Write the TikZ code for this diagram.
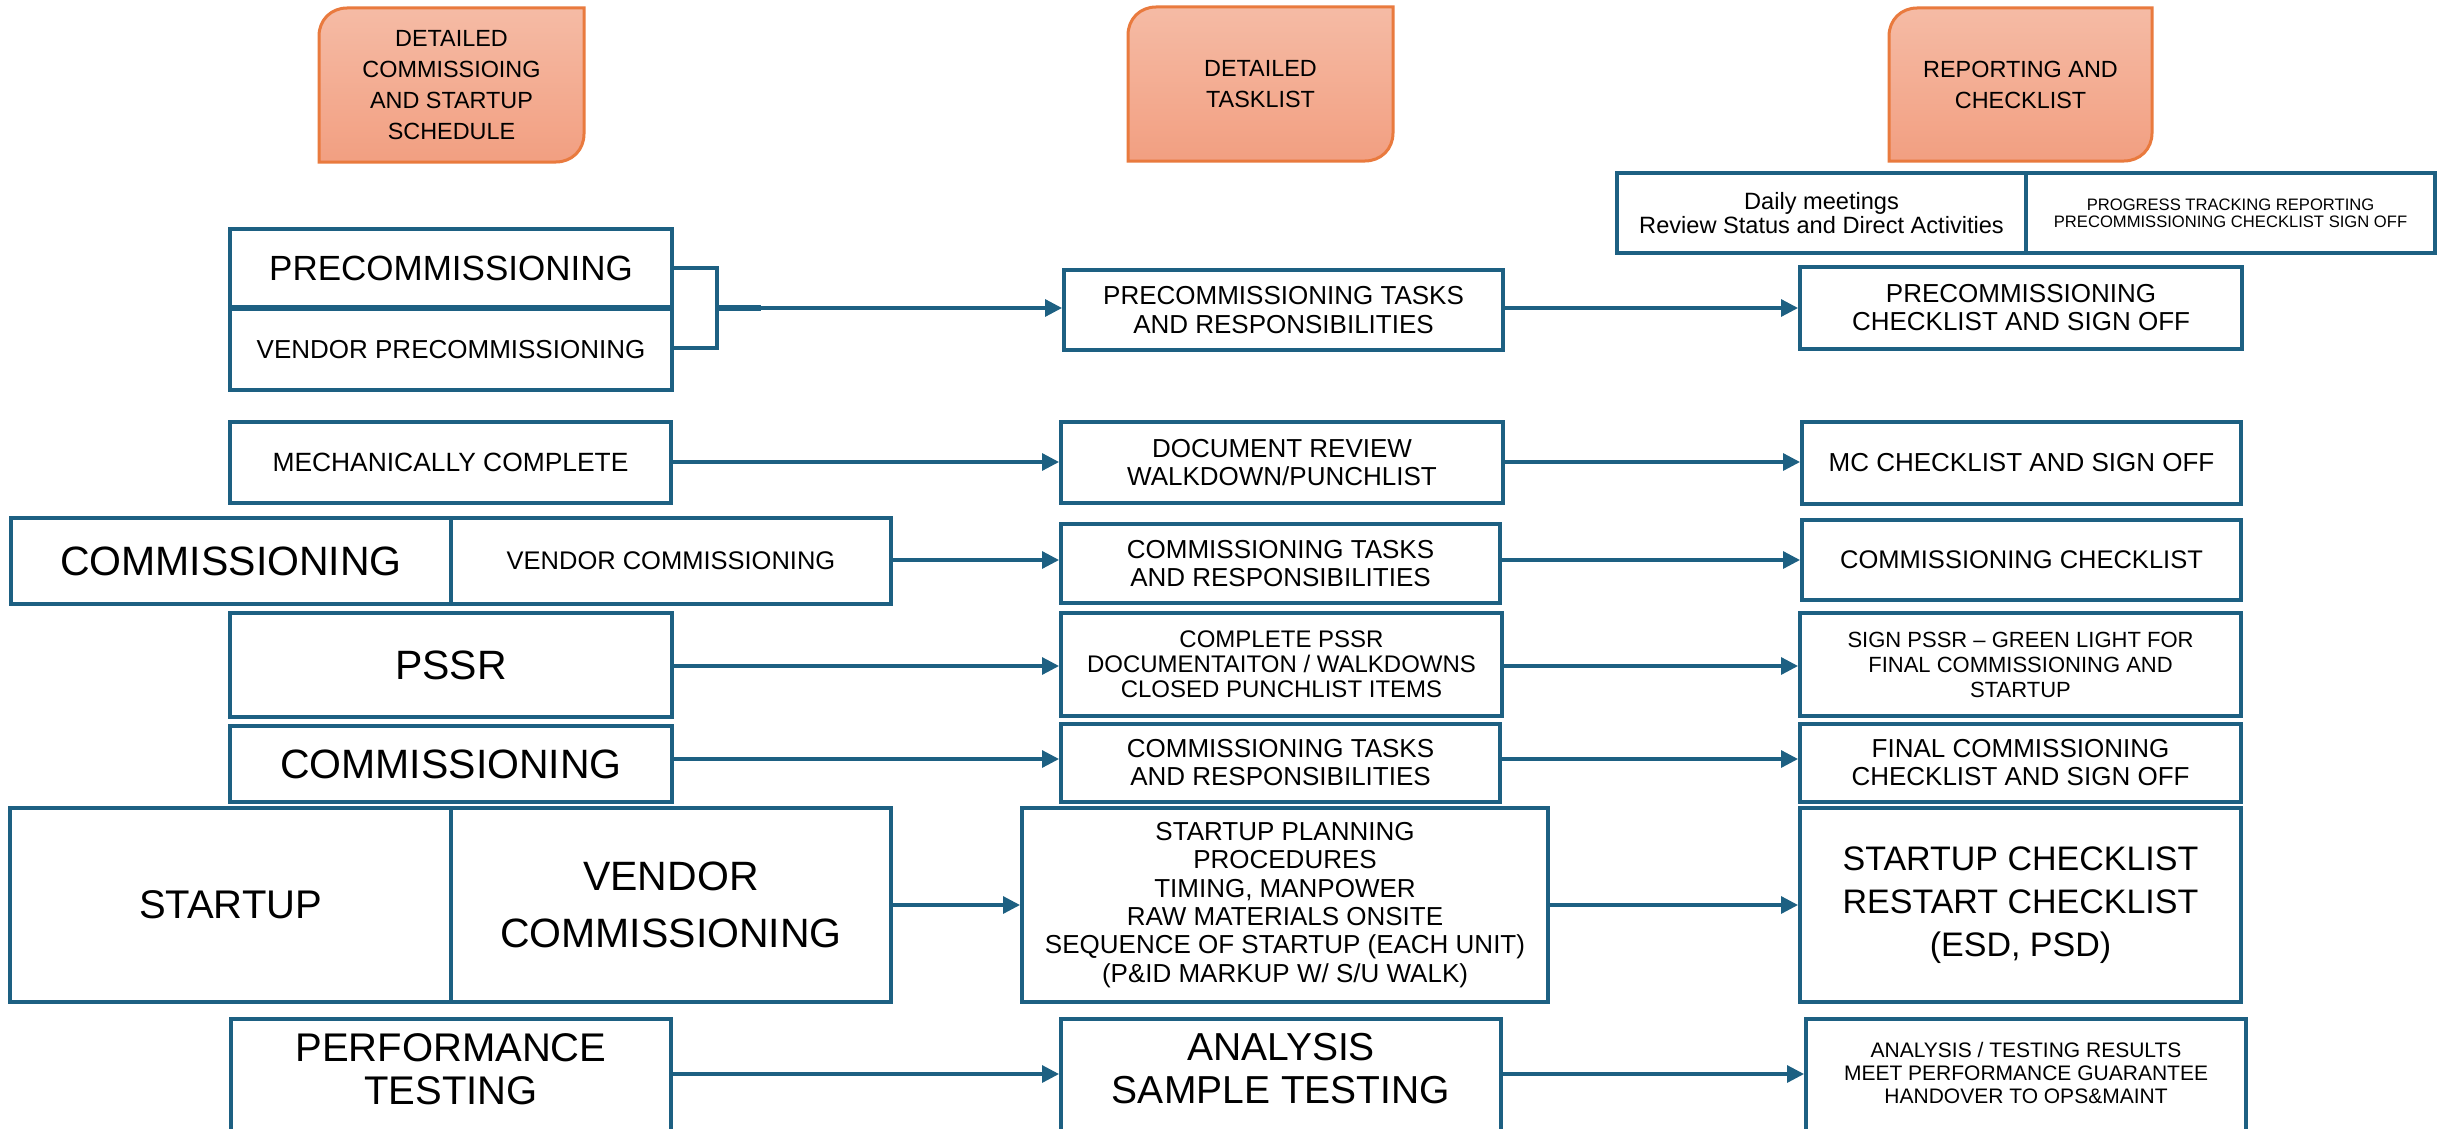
\documentclass[tikz,border=0pt]{standalone}
\usepackage{fontspec}
\setmainfont{Liberation Sans}
\usetikzlibrary{arrows.meta}
\definecolor{bblue}{HTML}{1D6082}
\definecolor{hborder}{HTML}{E97A3E}
\definecolor{htop}{HTML}{F5BBA5}
\definecolor{hbot}{HTML}{F29F81}
\newcommand\setfs[2]{\fontsize{#1}{#2}\selectfont}
\tikzset{
  box/.style={draw=bblue, line width=2pt, fill=white, inner sep=0pt, align=center, text=black},
  conn/.style={draw=bblue, line width=1.6pt, -{Triangle[length=8.5pt,width=8.5pt]}},
  plain/.style={draw=bblue, line width=1.6pt},
  htext/.style={align=center, text=black, inner sep=0pt, font=\setfs{11.7}{15.5}},
  ttext/.style={align=center, text=black, inner sep=0pt, anchor=north},
}
\newcommand\bx[6][]{\node[box,minimum width={(#5-#3)*0.5pt},minimum height={(#6-#4)*0.5pt},#1] (#2) at ({(#3+#5)/2},{(#4+#6)/2})}
\newcommand\hdr[5]{%
  \path[draw=hborder, line width=1.5pt, top color=htop, bottom color=hbot]
    (#2,#3+28) .. controls (#2,#3+12) and (#2+12,#3) .. (#2+28,#3) -- (#4,#3) -- (#4,#5-28)
    .. controls (#4,#5-12) and (#4-12,#5) .. (#4-28,#5) -- (#2,#5) -- cycle;
  \node[htext] (#1) at ({(#2+#4)/2},{(#3+#5)/2})}
\begin{document}
\begin{tikzpicture}[x=0.5pt,y=-0.5pt]
\useasboundingbox (0,0) rectangle (2440,1129);
\fill[white] (0,0) rectangle (2440,1129);
\clip (0,0) rectangle (2440,1129);

% headers
\hdr{h1}{319}{8}{584}{162} {DETAILED\\COMMISSIOING\\AND STARTUP\\SCHEDULE};
\hdr{h2}{1128}{7}{1393}{161} {DETAILED\\TASKLIST};
\hdr{h3}{1889}{8}{2152}{161} {REPORTING AND\\CHECKLIST};

% reporting strip
\bx[font=\setfs{11.8}{11.9}]{daily}{1617}{173}{2026}{253}{Daily meetings\\Review Status and Direct Activities};
\bx[font=\setfs{8.3}{8.6}]{prog}{2026}{173}{2435}{253}{PROGRESS TRACKING REPORTING\\PRECOMMISSIONING CHECKLIST SIGN OFF};

% row 1
\bx[font=\setfs{17.5}{18}]{pre1}{230}{229}{672}{307}{PRECOMMISSIONING};
\bx[font=\setfs{13}{14}]{pre2}{230}{309}{672}{390}{VENDOR PRECOMMISSIONING};
\bx[font=\setfs{13}{14.5}]{ptask}{1064}{270}{1503}{350}{PRECOMMISSIONING TASKS\\AND RESPONSIBILITIES};
\bx[font=\setfs{13}{14}]{pchk}{1800}{267}{2242}{349}{PRECOMMISSIONING\\CHECKLIST AND SIGN OFF};

% row 2
\bx[font=\setfs{13.2}{14}]{mech}{230}{422}{671}{503}{MECHANICALLY COMPLETE};
\bx[font=\setfs{13}{14}]{doc}{1061}{422}{1503}{503}{DOCUMENT REVIEW\\WALKDOWN/PUNCHLIST};
\bx[font=\setfs{13}{14}]{mc}{1802}{422}{2241}{504}{MC CHECKLIST AND SIGN OFF};

% row 3
\bx[font=\setfs{20.5}{21}]{comm1}{11}{518}{451}{604}{COMMISSIONING};
\bx[font=\setfs{12.75}{14}]{vcomm1}{451}{518}{891}{604}{VENDOR COMMISSIONING};
\bx[font=\setfs{13}{14}]{ctask1}{1061}{524}{1500}{603}{COMMISSIONING TASKS\\AND RESPONSIBILITIES};
\bx[font=\setfs{12.75}{14}]{cchk}{1802}{520}{2241}{600}{COMMISSIONING CHECKLIST};

% row 4
\bx[font=\setfs{20.5}{21}]{pssr}{230}{613}{672}{717}{PSSR};
\bx[font=\setfs{12}{12.5}]{cpssr}{1061}{613}{1502}{716}{COMPLETE PSSR\\DOCUMENTAITON / WALKDOWNS\\CLOSED PUNCHLIST ITEMS};
\bx[font=\setfs{11}{12.5}]{spssr}{1800}{613}{2241}{716}{SIGN PSSR – GREEN LIGHT FOR\\FINAL COMMISSIONING AND\\STARTUP};

% row 5
\bx[font=\setfs{20.5}{21}]{comm2}{230}{726}{672}{802}{COMMISSIONING};
\bx[font=\setfs{13}{14}]{ctask2}{1061}{724}{1500}{802}{COMMISSIONING TASKS\\AND RESPONSIBILITIES};
\bx[font=\setfs{13}{14}]{fchk}{1800}{724}{2241}{802}{FINAL COMMISSIONING\\CHECKLIST AND SIGN OFF};

% row 6
\bx[font=\setfs{20}{21}]{start}{10}{808}{451}{1002}{STARTUP};
\bx[font=\setfs{20.5}{28.5}]{vcomm2}{451}{808}{891}{1002}{VENDOR\\COMMISSIONING};
\bx[font=\setfs{13}{14.2}]{plan}{1022}{808}{1548}{1002}{STARTUP PLANNING\\PROCEDURES\\TIMING, MANPOWER\\RAW MATERIALS ONSITE\\SEQUENCE OF STARTUP (EACH UNIT)\\(P\&ID MARKUP W/ S/U WALK)};
\bx[font=\setfs{17}{21.5}]{schk}{1800}{808}{2241}{1002}{STARTUP CHECKLIST\\RESTART CHECKLIST\\(ESD, PSD)};

% row 7 (cut by the page edge)
\bx{perf}{231}{1019}{671}{1170}{};
\bx{ana}{1061}{1019}{1501}{1170}{};
\bx{res}{1806}{1019}{2246}{1170}{};
\node[ttext, font=\setfs{20}{21.5}] (perft) at (451,1033) {PERFORMANCE\\TESTING};
\node[ttext, font=\setfs{19.5}{21.5}] (anat) at (1281,1033) {ANALYSIS\\SAMPLE TESTING};
\node[ttext, font=\setfs{10.5}{11.5}] (rest) at (2026,1042) {ANALYSIS / TESTING RESULTS\\MEET PERFORMANCE GUARANTEE\\HANDOVER TO OPS\&MAINT};

% connectors
\coordinate (bt) at (717,268);
\coordinate (bb) at (717,348);
\coordinate (bm) at (717,308);
\coordinate (stub) at (761,308);
\draw[plain] (pre1.east |- bt) -- (bt) -- (bb) -- (pre2.east |- bb);
\draw[bblue, line width=3.3pt] (bm) -- (stub);
\draw[conn] (stub) -- (ptask.west |- stub);
\draw[conn] (ptask.east |- stub) -- (pchk.west |- stub);

\coordinate (y2) at (0,462);
\draw[conn] (mech.east |- y2) -- (doc.west |- y2);
\draw[conn] (doc.east |- y2) -- (mc.west |- y2);

\coordinate (y3) at (0,560);
\draw[conn] (vcomm1.east |- y3) -- (ctask1.west |- y3);
\draw[conn] (ctask1.east |- y3) -- (cchk.west |- y3);

\coordinate (y4) at (0,666);
\draw[conn] (pssr.east |- y4) -- (cpssr.west |- y4);
\draw[conn] (cpssr.east |- y4) -- (spssr.west |- y4);

\coordinate (y5) at (0,759);
\draw[conn] (comm2.east |- y5) -- (ctask2.west |- y5);
\draw[conn] (ctask2.east |- y5) -- (fchk.west |- y5);

\coordinate (y6) at (0,905);
\draw[conn] (vcomm2.east |- y6) -- (plan.west |- y6);
\draw[conn] (plan.east |- y6) -- (schk.west |- y6);

\coordinate (y7) at (0,1074);
\draw[conn] (perf.east |- y7) -- (ana.west |- y7);
\draw[conn] (ana.east |- y7) -- (res.west |- y7);
\end{tikzpicture}
\end{document}
